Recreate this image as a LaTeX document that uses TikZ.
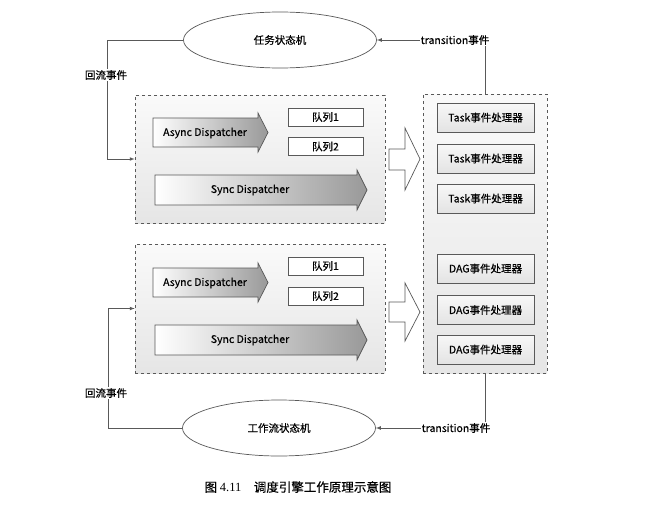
\documentclass[tikz,border=0pt]{standalone}
\usepackage{fontspec}
\setmainfont{Noto Sans CJK SC}[UprightFeatures={FakeBold=0.5}]
\newfontfamily\numfont{Liberation Serif}
\usetikzlibrary{shapes.geometric}

\begin{document}
\begin{tikzpicture}[
			x=1pt,
			y=-1pt,
			line width=0.7pt,
			font=\fontsize{10.5}{12}\selectfont,
			fsm/.style={draw=gray!70!black, fill=white, ellipse, minimum width=193pt, minimum height=56pt},
			groupbox/.style={draw=gray!70!black, dashed, top color=gray!4, bottom color=gray!20},
			queuebox/.style={draw=gray!70!black, fill=white, minimum width=75pt, minimum height=18pt, inner sep=0pt},
			handlerbox/.style={draw=gray!70!black, top color=gray!6, bottom color=gray!22, minimum width=97pt, minimum height=29pt, inner sep=0pt},
			dispatcher/.style={draw=gray!70!black, left color=white, right color=gray!80},
			hollow/.style={draw=gray!70!black, fill=white},
			flow/.style={gray!70!black, -latex},
			flow label/.style={fill=white, inner sep=1pt}
		]
		\fill[white] (0,0) rectangle (671,506);
		\useasboundingbox (0,0) rectangle (671,506);

		% state machines
		\node[fsm] (taskfsm) at (280,40) {任务状态机};
		\node[fsm] (wfsm) at (279,428) {工作流状态机};

		% dispatcher groups
		\node[groupbox, minimum width=250pt, minimum height=128pt] (grp1) at (260,159) {};
		\node[groupbox, minimum width=250pt, minimum height=129pt] (grp2) at (260,308.5) {};

		\shade[dispatcher] (153,118) -- (258,118) -- (258,113) -- (268,132.5) -- (258,152) -- (258,147) -- (153,147) -- cycle;
		\node (async1) at (205,133) {Async Dispatcher};
		\shade[dispatcher] (155,175) -- (357,175) -- (357,170) -- (367,190) -- (357,210) -- (357,205) -- (155,205) -- cycle;
		\node (sync1) at (250,190) {Sync Dispatcher};
		\node[queuebox] (q11) at (325.5,117) {队列1};
		\node[queuebox] (q12) at (325.5,146.5) {队列2};

		\shade[dispatcher] (153,268) -- (258,268) -- (258,263) -- (268,282.5) -- (258,302) -- (258,297) -- (153,297) -- cycle;
		\node (async2) at (205,283) {Async Dispatcher};
		\shade[dispatcher] (155,325) -- (357,325) -- (357,320) -- (367,340) -- (357,360) -- (357,355) -- (155,355) -- cycle;
		\node (sync2) at (250,340) {Sync Dispatcher};
		\node[queuebox] (q21) at (325.5,266) {队列1};
		\node[queuebox] (q22) at (325.5,296) {队列2};

		% hand-over arrows
		\draw[hollow] (389,149) -- (405,149) -- (405,128) -- (420,159) -- (405,190) -- (405,170) -- (389,170) -- cycle;
		\draw[hollow] (389,302) -- (405,302) -- (405,283) -- (420,312) -- (405,341) -- (405,322) -- (389,322) -- cycle;

		% event handlers
		\node[groupbox, minimum width=124pt, minimum height=279pt] (handlers) at (485,233.5) {};
		\node[handlerbox] (task1) at (485.5,117.5) {Task事件处理器};
		\node[handlerbox] (task2) at (485.5,158.5) {Task事件处理器};
		\node[handlerbox] (task3) at (485.5,198.5) {Task事件处理器};
		\node[handlerbox] (dag1) at (485.5,268.5) {DAG事件处理器};
		\node[handlerbox] (dag2) at (485.5,310) {DAG事件处理器};
		\node[handlerbox] (dag3) at (485.5,349.5) {DAG事件处理器};

		% event flows
		\coordinate (bendtop) at (107,159);
		\coordinate (bendbot) at (108,308.5);
		\draw[flow] (taskfsm.west) -| (bendtop) -- (grp1.west);
		\draw[flow] (wfsm.west) -| (bendbot) -- (grp2.west);
		\draw[flow] (handlers.north) |- (taskfsm.east);
		\draw[flow] (handlers.south) |- (wfsm.east);
		\node[flow label] (backtop) at (106,75) {回流事件};
		\node[flow label] (backbot) at (106,393) {回流事件};
		\node[flow label] (trtop) at (455,40) {transition事件};
		\node[flow label] (trbot) at (456,428) {transition事件};

		\node (caption) at (298,487) {\fontsize{12.5}{14}\selectfont 图\ {\numfont 4.11}\quad 调度引擎工作原理示意图};
	\end{tikzpicture}
\end{document}
